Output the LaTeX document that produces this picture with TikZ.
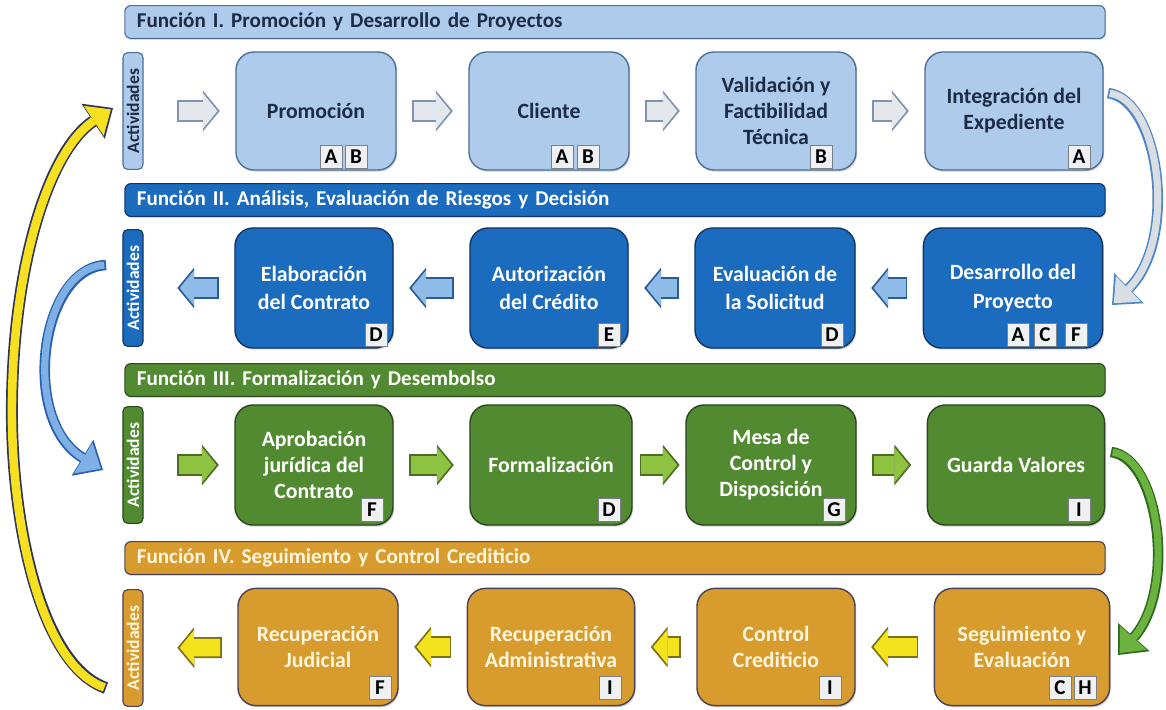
\documentclass[tikz,border=0pt]{standalone}
\usepackage{fontspec}
\setmainfont{Carlito}
\usepackage{tikz}
\usetikzlibrary{shadows,arrows.meta}

\definecolor{f1fill}{HTML}{AECBEC}
\definecolor{f1line}{HTML}{4D6E96}
\definecolor{f1text}{HTML}{1E2B45}
\definecolor{f2fill}{HTML}{1B6BBF}
\definecolor{f2line}{HTML}{13355F}
\definecolor{f3fill}{HTML}{528A31}
\definecolor{f3line}{HTML}{2B4620}
\definecolor{f4fill}{HTML}{D89C2E}
\definecolor{f4line}{HTML}{4A4258}
\definecolor{f4text}{HTML}{FFF6E0}
\definecolor{tagfill}{HTML}{EEF0F2}
\definecolor{tagline}{HTML}{7A7F88}
\definecolor{a1fill}{HTML}{E4E7EC}
\definecolor{a1line}{HTML}{7F93AE}
\definecolor{a2fill}{HTML}{8EBBE8}
\definecolor{a2line}{HTML}{2A5B92}
\definecolor{a3fill}{HTML}{8DC341}
\definecolor{a3line}{HTML}{4E6B24}
\definecolor{a4fill}{HTML}{F4E31C}
\definecolor{a4line}{HTML}{7B6F1A}
\definecolor{cgrayfill}{HTML}{D9DEE4}
\definecolor{cgrayline}{HTML}{4F86C6}
\definecolor{cbluefill}{HTML}{7EB0E6}
\definecolor{cblueline}{HTML}{2960B0}
\definecolor{cgreenfill}{HTML}{6CB23E}
\definecolor{cgreenline}{HTML}{2E6A22}
\definecolor{cyelfill}{HTML}{F6E020}
\definecolor{cyelline}{HTML}{2E3558}

\begin{document}
\begin{tikzpicture}[x=0.025cm, y=-0.025cm]

	\tikzstyle{head} = [rounded corners=0.15cm, line width=0.8pt, minimum height=0.82cm, text width=23.9cm, inner xsep=0.3cm, inner ysep=0pt, align=left, font=\bfseries\fontsize{15}{17}\selectfont, drop shadow={opacity=0.3, shadow xshift=0.6pt, shadow yshift=-1pt}]
	\tikzstyle{act} = [rotate=90, rounded corners=0.12cm, line width=0.8pt, minimum width=2.92cm, minimum height=0.5cm, inner sep=0pt, font=\bfseries\fontsize{12.5}{13}\selectfont]
	\tikzstyle{task} = [rounded corners=0.45cm, line width=1pt, minimum width=4cm, minimum height=2.95cm, inner sep=2pt, align=center, font=\bfseries\fontsize{15.5}{18.5}\selectfont, drop shadow={opacity=0.35, shadow xshift=0.8pt, shadow yshift=-1.2pt}]
	\tikzstyle{tag} = [draw=tagline, fill=tagfill, line width=0.6pt, minimum width=0.55cm, minimum height=0.58cm, inner sep=0pt, text=black, font=\bfseries\fontsize{15}{15}\selectfont]
	\tikzstyle{row_1} = [draw=f1line, fill=f1fill, text=f1text]
	\tikzstyle{row_2} = [draw=f2line, fill=f2fill, text=white]
	\tikzstyle{row_3} = [draw=f3line, fill=f3fill, text=white]
	\tikzstyle{row_4} = [draw=f4line, fill=f4fill, text=f4text]
	\tikzstyle{blk_out} = [line width=15pt, -{Triangle[length=12pt, width=29pt, line width=0pt]}, shorten <=11pt, shorten >=11pt]
	\tikzstyle{blk_in} = [line width=12.4pt, -{Triangle[length=10.2pt, width=25pt, line width=0pt]}, shorten <=12.2pt, shorten >=12.7pt]
	\tikzstyle{cur_out} = [line width=7.5pt, -{Triangle[length=17pt, width=30pt, line width=0pt]}]
	\tikzstyle{cur_in} = [line width=5.1pt, -{Triangle[length=14.6pt, width=25.5pt, line width=0pt]}, shorten <=1.2pt, shorten >=1.8pt]

	\useasboundingbox (0,0) rectangle (1166,710);

%------------------------------------------------------------
	\node[head, row_1] (fun1) at (615,22) {Función I. Promoción y Desarrollo de Proyectos};

	\node[act, row_1] (act1) at (133,111) {Actividades};
	\node[task, row_1] (prom) at (316,111) {Promoción};
	\node[task, row_1] (clie) at (549,111) {Cliente};
	\node[task, row_1] (vali) at (776,111) {Validación y\\Factibilidad\\Técnica};
	\node[task, row_1, minimum width=4.45cm] (inte) at (1014,111) {Integración del\\Expediente};

	\node[tag] (promA) at (331,157) {A};
	\node[tag] (promB) at (356,157) {B};
	\node[tag] (clieA) at (562,157) {A};
	\node[tag] (clieB) at (588,157) {B};
	\node[tag] (valiB) at (821,157) {B};
	\node[tag] (inteA) at (1079,157) {A};

	\draw[blk_out, a1line, shorten <=24pt] (act1) -- (prom);
	\draw[blk_in, a1fill, shorten <=25.2pt] (act1) -- (prom);
	\draw[blk_out, a1line] (prom) -- (clie);
	\draw[blk_in, a1fill] (prom) -- (clie);
	\draw[blk_out, a1line] (clie) -- (vali);
	\draw[blk_in, a1fill] (clie) -- (vali);
	\draw[blk_out, a1line] (vali) -- (inte);
	\draw[blk_in, a1fill] (vali) -- (inte);

%------------------------------------------------------------
	\node[head, row_2] (fun2) at (615,200) {Función II. Análisis, Evaluación de Riesgos y Decisión};

	\node[act, row_2] (act2) at (133,288) {Actividades};
	\node[task, row_2, minimum width=3.95cm, minimum height=3cm, font=\bfseries\fontsize{15.5}{20.5}\selectfont] (elab) at (314,288) {Elaboración\\del Contrato};
	\node[task, row_2, minimum width=3.95cm, minimum height=3cm, font=\bfseries\fontsize{15.5}{20.5}\selectfont] (auto) at (549,288) {Autorización\\del Crédito};
	\node[task, row_2, minimum height=3cm, font=\bfseries\fontsize{15.5}{20.5}\selectfont] (eval) at (775,288) {Evaluación de\\la Solicitud};
	\node[task, row_2, minimum width=4.48cm, minimum height=3cm, font=\bfseries\fontsize{15.5}{20.5}\selectfont] (desa) at (1013,288) {Desarrollo del\\Proyecto};

	\node[tag] (elabD) at (376,335) {D};
	\node[tag] (autoE) at (609,335) {E};
	\node[tag] (evalD) at (832,335) {D};
	\node[tag] (desaA) at (1018,335) {A};
	\node[tag] (desaC) at (1045,335) {C};
	\node[tag] (desaF) at (1076,335) {F};

	\draw[blk_out, a2line] (desa) -- (eval);
	\draw[blk_in, a2fill] (desa) -- (eval);
	\draw[blk_out, a2line] (eval) -- (auto);
	\draw[blk_in, a2fill] (eval) -- (auto);
	\draw[blk_out, a2line] (auto) -- (elab);
	\draw[blk_in, a2fill] (auto) -- (elab);
	\draw[blk_out, a2line, shorten >=24pt] (elab) -- (act2);
	\draw[blk_in, a2fill, shorten >=25.7pt] (elab) -- (act2);

%------------------------------------------------------------
	\node[head, row_3] (fun3) at (615,380) {Función III. Formalización y Desembolso};

	\node[act, row_3] (act3) at (133,465) {Actividades};
	\node[task, row_3, minimum width=3.95cm, minimum height=3cm] (apro) at (314,465) {Aprobación\\jurídica del\\Contrato};
	\node[task, row_3, minimum width=4.05cm, minimum height=3cm] (form) at (551,465) {Formalización};
	\node[task, row_3, minimum width=4.25cm, minimum height=3cm] (mesa) at (771,465) {Mesa de\\Control y\\Disposición};
	\node[task, row_3, minimum width=4.43cm, minimum height=3cm] (guar) at (1016,465) {Guarda Valores};

	\node[tag] (aproF) at (372,510) {F};
	\node[tag] (formD) at (609,510) {D};
	\node[tag] (mesaG) at (834,510) {G};
	\node[tag] (guarI) at (1079,510) {I};

	\draw[blk_out, a3line, shorten <=24pt] (act3) -- (apro);
	\draw[blk_in, a3fill, shorten <=25.2pt] (act3) -- (apro);
	\draw[blk_out, a3line] (apro) -- (form);
	\draw[blk_in, a3fill] (apro) -- (form);
	\draw[blk_out, a3line, shorten <=5pt, shorten >=4pt] (form) -- (mesa);
	\draw[blk_in, a3fill, shorten <=6.2pt, shorten >=5.7pt] (form) -- (mesa);
	\draw[blk_out, a3line] (mesa) -- (guar);
	\draw[blk_in, a3fill] (mesa) -- (guar);

%------------------------------------------------------------
	\node[head, row_4] (fun4) at (615,558) {Función IV. Seguimiento y Control Crediticio};

	\node[act, row_4] (act4) at (133,648) {Actividades};
	\node[task, row_4, minimum height=2.93cm] (rjud) at (318,647) {Recuperación\\Judicial};
	\node[task, row_4, minimum width=4.18cm, minimum height=2.93cm] (radm) at (551,647) {Recuperación\\Administrativa};
	\node[task, row_4, minimum width=3.95cm, minimum height=2.93cm] (ctrl) at (776,647) {Control\\Crediticio};
	\node[task, row_4, minimum width=4.38cm, minimum height=2.93cm] (segu) at (1022,647) {Seguimiento y\\Evaluación};

	\node[tag] (rjudF) at (380,688) {F};
	\node[tag] (radmI) at (610,688) {I};
	\node[tag] (ctrlI) at (830,688) {I};
	\node[tag] (seguC) at (1060,688) {C};
	\node[tag] (seguH) at (1085,688) {H};

	\draw[blk_out, a4line] (segu) -- (ctrl);
	\draw[blk_in, a4fill] (segu) -- (ctrl);
	\draw[blk_out, a4line] (ctrl) -- (radm);
	\draw[blk_in, a4fill] (ctrl) -- (radm);
	\draw[blk_out, a4line] (radm) -- (rjud);
	\draw[blk_in, a4fill] (radm) -- (rjud);
	\draw[blk_out, a4line, shorten >=24pt] (rjud) -- (act4);
	\draw[blk_in, a4fill, shorten >=25.7pt] (rjud) -- (act4);

%------------------------------------------------------------
	% paso de una funcion a la siguiente
	\coordinate (gr_s) at (1108,93);
	\coordinate (gr_e) at (1112,305);
	\coordinate (bl_s) at (106,265);
	\coordinate (bl_e) at (103,470);
	\coordinate (gn_s) at (1111,452);
	\coordinate (gn_e) at (1118,655);
	\coordinate (yl_s) at (106,688);
	\coordinate (yl_m) at (12,400);
	\coordinate (yl_e) at (113,108);

	\draw[cur_out, cgrayline] (gr_s) .. controls (1160,100) and (1178,240) .. (gr_e);
	\draw[cur_in, cgrayfill] (gr_s) .. controls (1160,100) and (1178,240) .. (gr_e);
	\draw[cur_out, cblueline] (bl_s) .. controls (40,268) and (20,420) .. (bl_e);
	\draw[cur_in, cbluefill] (bl_s) .. controls (40,268) and (20,420) .. (bl_e);
	\draw[cur_out, cgreenline] (gn_s) .. controls (1160,458) and (1176,590) .. (gn_e);
	\draw[cur_in, cgreenfill] (gn_s) .. controls (1160,458) and (1176,590) .. (gn_e);
	\draw[cur_out, cyelline, line width=8.5pt] (yl_s) .. controls (40,665) and (10,520) .. (yl_m) .. controls (14,260) and (50,150) .. (yl_e);
	\draw[cur_in, cyelfill, line width=6.1pt] (yl_s) .. controls (40,665) and (10,520) .. (yl_m) .. controls (14,260) and (50,150) .. (yl_e);

\end{tikzpicture}
\end{document}
